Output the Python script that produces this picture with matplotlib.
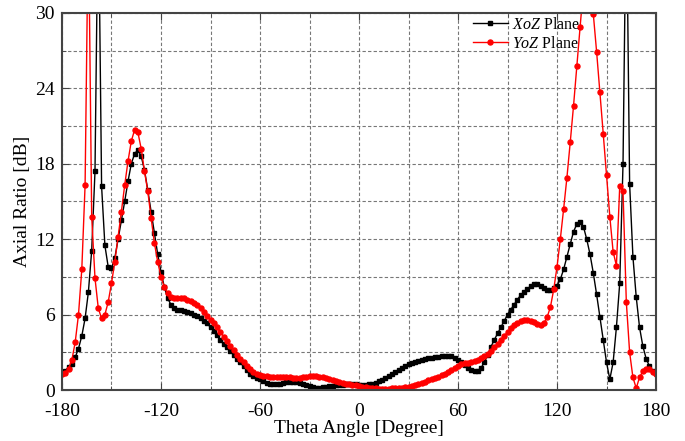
import numpy as np
import matplotlib
matplotlib.use("Agg")
from matplotlib import pyplot as plt
from matplotlib.ticker import MultipleLocator

plt.rcParams['font.family'] = ['Liberation Serif', 'DejaVu Serif']
plt.rcParams['mathtext.fontset'] = 'custom'
plt.rcParams['mathtext.it'] = 'Liberation Serif:italic'
plt.rcParams['mathtext.rm'] = 'Liberation Serif'
plt.rcParams['axes.unicode_minus'] = False

# theta angle, 2 degree steps
theta = np.arange(-180, 181, 2)

xoz = [
    1.4, 1.55, 1.8, 2.1, 2.6, 3.3, 4.3, 5.7, 7.8, 11.1,      # -180 .. -162
    17.4, 40.0, 16.2, 11.5, 9.8, 9.7, 10.5, 12.0, 13.5, 15.0,  # -160 .. -142
    16.6, 18.0, 18.8, 19.1, 18.6, 17.5, 15.9, 14.2, 12.5, 10.8,  # -140 .. -122
    9.4, 8.2, 7.3, 6.8, 6.5, 6.4, 6.4, 6.3, 6.2, 6.1,          # -120 .. -102
    6.0, 5.9, 5.7, 5.5, 5.3, 5.0, 4.7, 4.4, 4.0, 3.7,          # -100 .. -82
    3.4, 3.1, 2.8, 2.5, 2.2, 1.9, 1.6, 1.3, 1.1, 0.95,         # -80 .. -62
    0.85, 0.7, 0.55, 0.48, 0.45, 0.45, 0.5, 0.56, 0.62, 0.65,  # -60 .. -42
    0.65, 0.62, 0.55, 0.47, 0.38, 0.3, 0.24, 0.2, 0.2, 0.23,   # -40 .. -22
    0.27, 0.31, 0.35, 0.38, 0.41, 0.43, 0.44, 0.45, 0.45, 0.44,  # -20 .. -2
    0.43, 0.42, 0.43, 0.45, 0.5, 0.58, 0.68, 0.8, 0.95, 1.1,   # 0 .. 18
    1.28, 1.45, 1.62, 1.78, 1.92, 2.05, 2.15, 2.25, 2.33, 2.4,  # 20 .. 38
    2.46, 2.52, 2.57, 2.62, 2.66, 2.7, 2.72, 2.72, 2.68, 2.58,  # 40 .. 58
    2.42, 2.2, 1.97, 1.75, 1.6, 1.52, 1.55, 1.78, 2.2, 2.8,    # 60 .. 78
    3.45, 4.0, 4.5, 5.0, 5.5, 6.0, 6.4, 6.8, 7.2, 7.55,        # 80 .. 98
    7.8, 8.05, 8.25, 8.4, 8.4, 8.3, 8.15, 7.98, 7.95, 8.1,     # 100 .. 118
    8.3, 8.8, 9.6, 10.6, 11.6, 12.6, 13.2, 13.35, 13.0, 12.0,  # 120 .. 138
    10.8, 9.3, 7.6, 5.8, 4.0, 2.2, 0.85, 2.2, 5.0, 8.5,        # 140 .. 158
    18.0, 40.0, 16.4, 10.6, 7.4, 5.0, 3.5, 2.5, 1.9, 1.5,      # 160 .. 178
    1.35,                                                      # 180
]

yoz = [
    1.3, 1.35, 1.7, 2.4, 3.8, 6.0, 9.6, 16.3, 38.0, 13.8,      # -180 .. -162
    8.9, 6.5, 5.7, 6.0, 7.0, 8.5, 10.2, 12.2, 14.2, 16.3,      # -160 .. -142
    18.2, 19.8, 20.7, 20.5, 19.2, 17.4, 15.8, 13.7, 11.7, 10.2,  # -140 .. -122
    9.0, 8.2, 7.7, 7.4, 7.3, 7.3, 7.3, 7.3, 7.2, 7.1,          # -120 .. -102
    6.95, 6.75, 6.5, 6.2, 5.9, 5.6, 5.3, 5.0, 4.6, 4.25,       # -100 .. -82
    3.9, 3.5, 3.15, 2.8, 2.5, 2.2, 1.9, 1.65, 1.45, 1.3,       # -80 .. -62
    1.2, 1.1, 1.08, 1.07, 1.06, 1.05, 1.05, 1.05, 1.03, 1.0,   # -60 .. -42
    0.98, 0.97, 0.98, 1.0, 1.05, 1.08, 1.1, 1.1, 1.07, 1.0,    # -40 .. -22
    0.93, 0.85, 0.77, 0.7, 0.63, 0.57, 0.5, 0.45, 0.4, 0.36,   # -20 .. -2
    0.32, 0.27, 0.22, 0.18, 0.15, 0.13, 0.12, 0.12, 0.12, 0.12,  # 0 .. 18
    0.13, 0.13, 0.15, 0.18, 0.22, 0.27, 0.33, 0.4, 0.48, 0.57,  # 20 .. 38
    0.66, 0.76, 0.86, 0.96, 1.06, 1.17, 1.3, 1.45, 1.6, 1.78,  # 40 .. 58
    1.95, 2.05, 2.12, 2.18, 2.25, 2.33, 2.42, 2.55, 2.7, 2.9,  # 60 .. 78
    3.12, 3.4, 3.7, 4.0, 4.3, 4.6, 4.9, 5.15, 5.35, 5.5,       # 80 .. 98
    5.55, 5.55, 5.5, 5.4, 5.28, 5.2, 5.3, 5.8, 6.6, 8.0,       # 100 .. 118
    9.8, 12.0, 14.4, 16.9, 19.7, 22.6, 25.8, 28.9, 32.0, 33.5,  # 120 .. 138
    32.5, 29.9, 26.9, 23.7, 20.4, 17.1, 13.8, 11.0, 9.9, 16.2,  # 140 .. 158
    15.8, 7.0, 3.0, 1.0, 0.15, 1.0, 1.5, 1.7, 1.65, 1.45,      # 160 .. 178
    1.3,                                                       # 180
]

fig = plt.figure(figsize=(6.85, 4.41), dpi=100)
ax = fig.add_axes([0.0905, 0.1156, 0.8672, 0.855])

ax.plot(theta, xoz, '-s', color='black', lw=1.0, ms=3.0, label=r'$\it{XoZ}$ Plane')
ax.plot(theta, yoz, '-o', color='red', lw=1.0, ms=3.6, label=r'$\it{YoZ}$ Plane')

ax.set_xlim(-180, 180)
ax.set_ylim(0, 30)
ax.xaxis.set_major_locator(MultipleLocator(60))
ax.xaxis.set_minor_locator(MultipleLocator(30))
ax.yaxis.set_major_locator(MultipleLocator(6))
ax.yaxis.set_minor_locator(MultipleLocator(3))
ax.grid(True, which='both', linestyle=(0, (3, 2)), color='#777777', lw=0.8)
ax.tick_params(which='both', direction='in', top=True, right=True, labelsize=14, color='#444444')
ax.tick_params(axis='x', which='major', pad=9)
ax.tick_params(axis='y', which='major', pad=5)
ax.tick_params(which='major', length=5)
ax.tick_params(which='minor', length=3)
for s in ax.spines.values():
    s.set_linewidth(1.5)
    s.set_color('#444444')

ax.set_xlabel('Theta Angle [Degree]', fontsize=14, labelpad=0)
ax.set_ylabel('Axial Ratio [dB]', fontsize=14, labelpad=3)

ax.legend(loc='upper left', bbox_to_anchor=(0.675, 1.015), frameon=False, fontsize=11.5,
          handlelength=2.2, handletextpad=0.3, labelspacing=0.2, borderaxespad=0.2)

fig.savefig('out.png', dpi=100)
